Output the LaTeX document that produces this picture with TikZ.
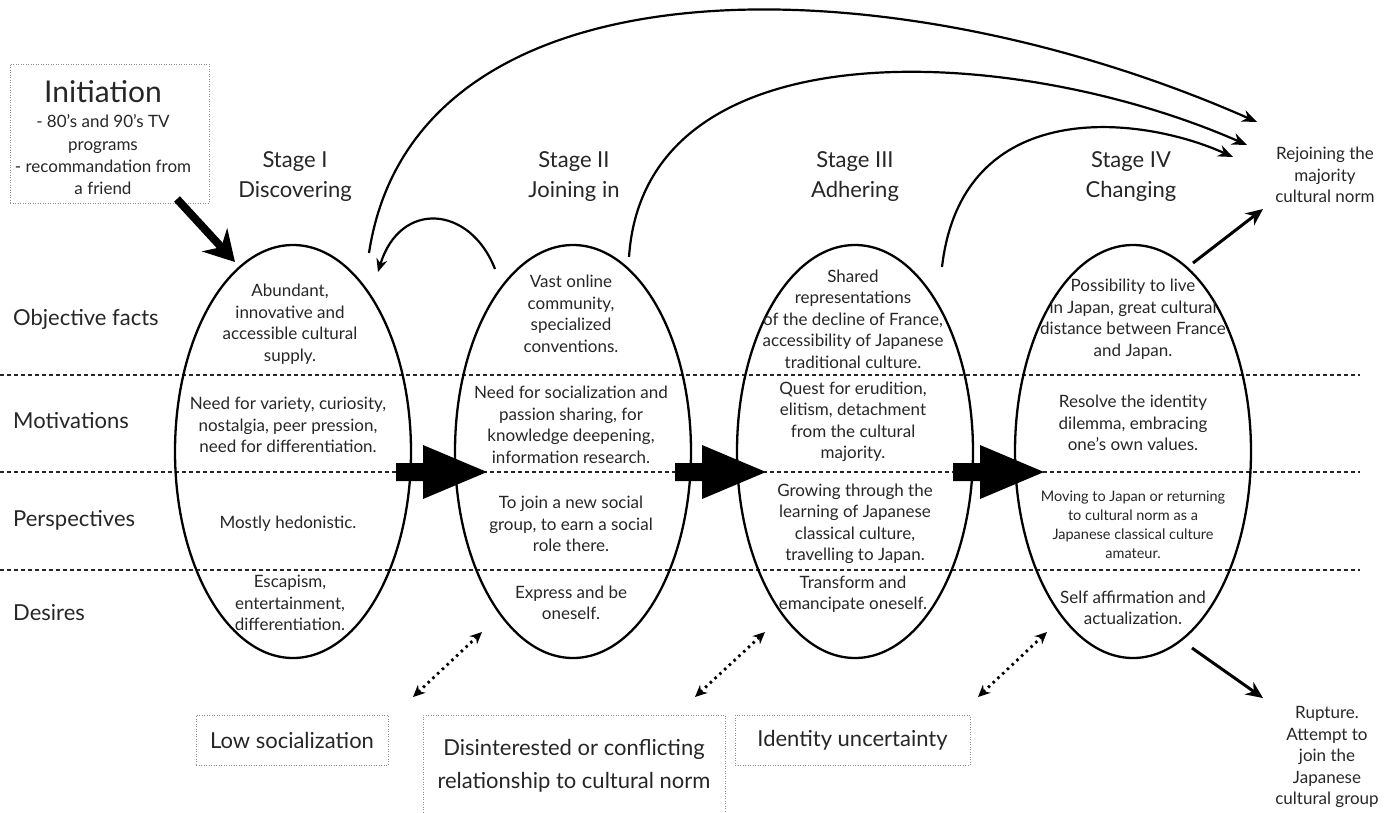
\documentclass[tikz,border=0pt]{standalone}
\usepackage{fontspec}
\setmainfont{Lato}
\usetikzlibrary{shapes.geometric,arrows.meta,positioning}

\begin{document}
\begin{tikzpicture}[x=1pt,y=-1pt,>={Stealth[length=15pt,width=12pt]}]
      \tikzstyle{stage ellipse}=[ellipse, draw=black, line width=2.3pt, minimum width=236pt, minimum height=413pt, inner sep=0pt]
      \tikzstyle{cell}=[align=center, text=black!85, font=\fontsize{17}{21.5}\selectfont, inner sep=0pt]
      \tikzstyle{small cell}=[cell, font=\fontsize{14.5}{19}\selectfont]
      \tikzstyle{stage label}=[align=center, text=black!85, font=\fontsize{22}{30}\selectfont, inner sep=0pt]
      \tikzstyle{row label}=[anchor=base west, text=black!85, font=\fontsize{22}{26}\selectfont, inner sep=0pt]
      \tikzstyle{note box}=[draw=black!45, dash pattern=on 1pt off 1.5pt, line width=0.8pt, text=black!85, align=center, inner sep=0pt]
      \tikzstyle{row line}=[black!85, line width=1.2pt, dash pattern=on 4pt off 3pt]
      \tikzstyle{loop arrow}=[->, line width=2.2pt]
      \tikzstyle{tension arrow}=[{Stealth[length=12pt,width=11pt]}-{Stealth[length=12pt,width=11pt]}, line width=2.8pt, dash pattern=on 2.5pt off 4pt]

      \useasboundingbox (0,0) rectangle (1394,812);

      % Rows
      \foreach \y in {375,472,570}
          \draw[row line] (0,\y) -- (1360,\y);
      \node[row label] (R-obj) at (13,325) {Objective facts};
      \node[row label] (R-mot) at (13,428) {Motivations};
      \node[row label] (R-per) at (13,526) {Perspectives};
      \node[row label] (R-des) at (13,620) {Desires};

      % Stages
      \foreach \i/\x in {1/293,2/573,3/855,4/1133}
          \node[stage ellipse] (E\i) at (\x,451.5) {};
      \node[stage label] (S1) at (295,177) {Stage I\\Discovering};
      \node[stage label] (S2) at (574,177) {Stage II\\Joining in};
      \node[stage label] (S3) at (855,177) {Stage III\\Adhering};
      \node[stage label] (S4) at (1131,177) {Stage IV\\Changing};

      % Stage I
      \node[cell] (E1-obj) at (290,324) {Abundant,\\innovative and\\accessible cultural\\supply.};
      \node[cell] (E1-mot) at (288,425) {Need for variety, curiosity,\\nostalgia, peer pression,\\need for differentiation.};
      \node[cell] (E1-per) at (288,524) {Mostly hedonistic.};
      \node[cell] (E1-des) at (290,603) {Escapism,\\entertainment,\\differentiation.};

      % Stage II
      \node[cell] (E2-obj) at (571,314) {Vast online\\community,\\specialized\\conventions.};
      \node[cell] (E2-mot) at (571,425) {Need for socialization and\\passion sharing, for\\knowledge deepening,\\information research.};
      \node[cell] (E2-per) at (571,524) {To join a new social\\group, to earn a social\\role there.};
      \node[cell] (E2-des) at (571,603) {Express and be\\oneself.};

      % Stage III
      \node[cell] (E3-obj) at (853,319) {Shared\\representations\\of the decline of France,\\accessibility of Japanese\\traditional culture.};
      \node[cell] (E3-mot) at (853,422) {Quest for erudition,\\elitism, detachment\\from the cultural\\majority.};
      \node[cell] (E3-per) at (855,524) {Growing through the\\learning of Japanese\\classical culture,\\travelling to Japan.};
      \node[cell] (E3-des) at (853,594) {Transform and\\emancipate oneself.};

      % Stage IV
      \node[cell] (E4-obj) at (1133,319) {Possibility to live\\in Japan, great cultural\\distance between France\\and Japan.};
      \node[cell] (E4-mot) at (1133,423) {Resolve the identity\\dilemma, embracing\\one’s own values.};
      \node[small cell] (E4-per) at (1133,525) {Moving to Japan or returning\\to cultural norm as a\\Japanese classical culture\\amateur.};
      \node[cell] (E4-des) at (1133,608) {Self affirmation and\\actualization.};

      % Initiation
      \node[note box, minimum width=199pt, minimum height=139pt] (init frame) at (109.5,133.5) {};
      \node[stage label, font=\fontsize{30}{34}\selectfont] (init) at (103,92) {Initiation};
      \node[cell, font=\fontsize{17}{22.3}\selectfont] (init list) at (103,155) {- 80’s and 90’s TV\\programs\\- recommandation from\\a friend};
      \coordinate (init out) at (177,199);
      \coordinate (E1-in) at (235,262);
      \draw[line width=8pt, -{Stealth[length=30pt,width=34pt]}] (init out) -- (E1-in);

      % Moving on from stage to stage
      \foreach \i/\xs in {1/396,2/675,3/953} {
          \coordinate (A\i) at (\xs,472);
          \fill (A\i) ++(0,-9) -- ++(27,0) -- ++(0,-18) -- ++(64,27) -- ++(-64,27) -- ++(0,-18) -- ++(-27,0) -- cycle;
      }

      % Loops back and exits
      \node[cell] (rejoin) at (1325,175) {Rejoining the\\majority\\cultural norm};
      \node[cell] (rupture) at (1327,757) {Rupture.\\Attempt to\\join the\\Japanese\\cultural group};
      \coordinate (E1-top) at (369,253);
      \coordinate (E2-top) at (629,257);
      \coordinate (E3-top) at (942,267);
      \coordinate (E2-back) at (495,269);
      \coordinate (E1-back) at (378,272);
      \coordinate (rejoin-1) at (1257,122);
      \coordinate (rejoin-2) at (1247,145);
      \coordinate (rejoin-3) at (1233,157);
      \draw[loop arrow] (E1-top) .. controls (415,-50) and (890,-40) .. (rejoin-1);
      \draw[loop arrow] (E2-top) .. controls (645,20) and (1020,45) .. (rejoin-2);
      \draw[loop arrow] (E3-top) .. controls (962,95) and (1140,115) .. (rejoin-3);
      \draw[loop arrow, >={Stealth[length=13pt,width=11pt]}] (E2-back) .. controls (470,205) and (400,200) .. (E1-back);

      \coordinate (E4-up) at (1193,263);
      \coordinate (rejoin-in) at (1263,209);
      \coordinate (E4-down) at (1192,648);
      \coordinate (rupture-in) at (1263,698);
      \draw[line width=3pt, -{Stealth[length=17pt,width=15pt]}] (E4-up) -- (rejoin-in);
      \draw[line width=3pt, -{Stealth[length=17pt,width=15pt]}] (E4-down) -- (rupture-in);

      % Tensions
      \node[note box, minimum width=192pt, minimum height=50pt, font=\fontsize{22}{33}\selectfont] (low) at (292,740) {Low socialization};
      \node[note box, minimum width=302pt, minimum height=102pt, font=\fontsize{22}{33}\selectfont] (norm) at (574,766) {Disinterested or conflicting\\relationship to cultural norm};
      \node[note box, minimum width=235pt, minimum height=50pt, font=\fontsize{22}{33}\selectfont] (identity) at (852.5,740) {Identity uncertainty};
      \foreach \i/\xa/\xb in {1/413/482,2/695/765,3/978/1047} {
          \coordinate (T\i-a) at (\xa,697);
          \coordinate (T\i-b) at (\xb,632);
          \draw[tension arrow] (T\i-a) -- (T\i-b);
      }
\end{tikzpicture}
\end{document}
